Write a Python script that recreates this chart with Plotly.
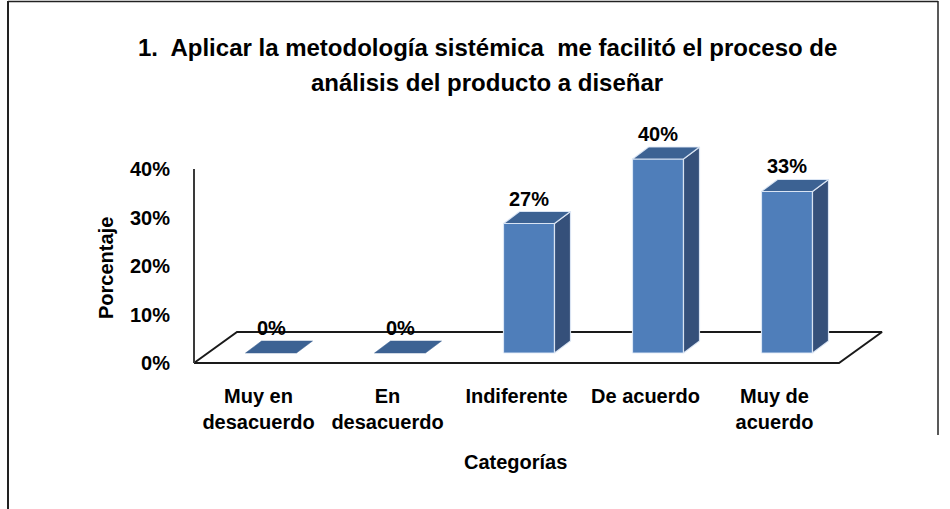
import plotly.graph_objects as go

# ---------------- data ----------------
categories = ["Muy en<br>desacuerdo", "En<br>desacuerdo", "Indiferente", "De acuerdo", "Muy de<br>acuerdo"]
values = [0.0, 0.0, 0.267, 0.400, 0.333]
value_labels = ["0%", "0%", "27%", "40%", "33%"]
y_tick_values = [0.0, 0.1, 0.2, 0.3, 0.4]
y_tick_labels = ["0%", "10%", "20%", "30%", "40%"]
title_lines = ["1.\u00a0 Aplicar la metodología sistémica\u00a0 me facilitó el proceso de",
               "análisis del producto a diseñar"]
y_title = "Porcentaje"
x_title = "Categorías"

# ---------------- layout / style ----------------
W, H = 950, 509
PL, PR, PT, PB = 188, 900, 100, 370          # plot area in pixels
CAT0_PX, VAL0_PX = 258.5, 363                 # pixel of category 0 / value 0
PX_CAT, PX_VAL = 129.0, 485.0                 # pixels per category / per unit

x_range = [(PL - CAT0_PX) / PX_CAT, (PR - CAT0_PX) / PX_CAT]
y_range = [(VAL0_PX - PB) / PX_VAL, (VAL0_PX - PT) / PX_VAL]

FLOOR_DX, FLOOR_DY = 43 / PX_CAT, 31 / PX_VAL
BAR_OFF_X, BAR_OFF_Y = 12.5 / PX_CAT, 10 / PX_VAL
BAR_W = 51 / PX_CAT
BAR_DX, BAR_DY = 16 / PX_CAT, 12 / PX_VAL

FRONT = "#4F7EBA"
SIDE = "#35507A"
TOP = "#3C6293"
EDGE = "rgba(225,235,248,0.9)"
FONT = "Liberation Sans, Arial, sans-serif"


def pxx(px):
    return (px - PL) / (PR - PL)


def pxy(py):
    return (PB - py) / (PB - PT)


fig = go.Figure()

n = len(categories)
# floor (white parallelogram outline)
fx0, fx1 = -0.5, n - 0.5
fig.add_trace(go.Scatter(
    x=[fx0, fx1, fx1 + FLOOR_DX, fx0 + FLOOR_DX, fx0],
    y=[0, 0, FLOOR_DY, FLOOR_DY, 0],
    mode="lines", line=dict(color="#1a1a1a", width=2),
    fill="toself", fillcolor="white", hoverinfo="skip", showlegend=False))

# vertical axis line
fig.add_trace(go.Scatter(
    x=[fx0, fx0], y=[0, max(y_tick_values)],
    mode="lines", line=dict(color="#3a3a3a", width=2),
    hoverinfo="skip", showlegend=False))

for i, v in enumerate(values):
    x0 = i + BAR_OFF_X - BAR_W / 2
    x1 = x0 + BAR_W
    y0 = BAR_OFF_Y
    y1 = y0 + v
    if v > 0:
        # front face
        fig.add_trace(go.Scatter(
            x=[x0, x1, x1, x0, x0], y=[y0, y0, y1, y1, y0],
            mode="lines", line=dict(color=EDGE, width=1.2),
            fill="toself", fillcolor=FRONT, hoverinfo="skip", showlegend=False))
        # side face
        fig.add_trace(go.Scatter(
            x=[x1, x1 + BAR_DX, x1 + BAR_DX, x1, x1],
            y=[y0, y0 + BAR_DY, y1 + BAR_DY, y1, y0],
            mode="lines", line=dict(color=EDGE, width=1.2),
            fill="toself", fillcolor=SIDE, hoverinfo="skip", showlegend=False))
    # top face
    fig.add_trace(go.Scatter(
        x=[x0, x1, x1 + BAR_DX, x0 + BAR_DX, x0],
        y=[y1, y1, y1 + BAR_DY, y1 + BAR_DY, y1],
        mode="lines", line=dict(color=EDGE if v > 0 else TOP, width=1.2 if v > 0 else 0.5),
        fill="toself", fillcolor=TOP, hoverinfo="skip", showlegend=False))

annotations = []
for i, v in enumerate(values):
    annotations.append(dict(
        x=pxx(CAT0_PX + PX_CAT * (i + BAR_OFF_X)), xref="paper",
        y=pxy(VAL0_PX - PX_VAL * (v + BAR_OFF_Y + BAR_DY)), yref="paper",
        xanchor="center", yanchor="bottom", yshift=0, text=value_labels[i], showarrow=False,
        font=dict(family=FONT, size=20, color="black", weight="bold")))

for line, py in zip(title_lines, [47, 82]):
    annotations.append(dict(x=pxx(487), y=pxy(py), xref="paper", yref="paper",
                            xanchor="center", yanchor="middle",
                            text=line, showarrow=False,
                            font=dict(family=FONT, size=24, color="black", weight="bold")))
annotations.append(dict(x=pxx(106), y=pxy(268), xref="paper", yref="paper",
                        xanchor="center", yanchor="middle",
                        text=y_title, textangle=-90, showarrow=False,
                        font=dict(family=FONT, size=20, color="black", weight="bold")))
annotations.append(dict(x=pxx(515), y=pxy(462), xref="paper", yref="paper",
                        xanchor="center", yanchor="middle",
                        text=x_title, showarrow=False,
                        font=dict(family=FONT, size=20, color="black", weight="bold")))

shapes = [
    dict(type="line", xref="paper", yref="paper", x0=pxx(8), x1=pxx(8), y0=pxy(1), y1=pxy(510),
         line=dict(color="#222", width=2)),
    dict(type="line", xref="paper", yref="paper", x0=pxx(8), x1=pxx(938), y0=pxy(1.5), y1=pxy(1.5),
         line=dict(color="#222", width=1.5)),
    dict(type="line", xref="paper", yref="paper", x0=pxx(938), x1=pxx(938), y0=pxy(1), y1=pxy(435),
         line=dict(color="#222", width=1.5)),
]

fig.update_layout(
    width=W, height=H,
    margin=dict(l=PL, r=W - PR, t=PT, b=H - PB),
    paper_bgcolor="white", plot_bgcolor="white",
    showlegend=False,
    annotations=annotations, shapes=shapes,
    xaxis=dict(range=x_range, tickvals=list(range(n)), ticktext=categories,
               showgrid=False, zeroline=False, showline=False, ticks="",
               ticklabelstandoff=12,
               tickfont=dict(family=FONT, size=20, color="black", weight="bold"),
               fixedrange=True),
    yaxis=dict(range=y_range, tickvals=y_tick_values, ticktext=y_tick_labels,
               showgrid=False, zeroline=False, showline=False, ticks="",
               ticklabelstandoff=17,
               tickfont=dict(family=FONT, size=20, color="black", weight="bold"),
               fixedrange=True),
)

fig.write_html("out.html", config={"displayModeBar": False},
               post_script="document.body.style.margin='0';")
